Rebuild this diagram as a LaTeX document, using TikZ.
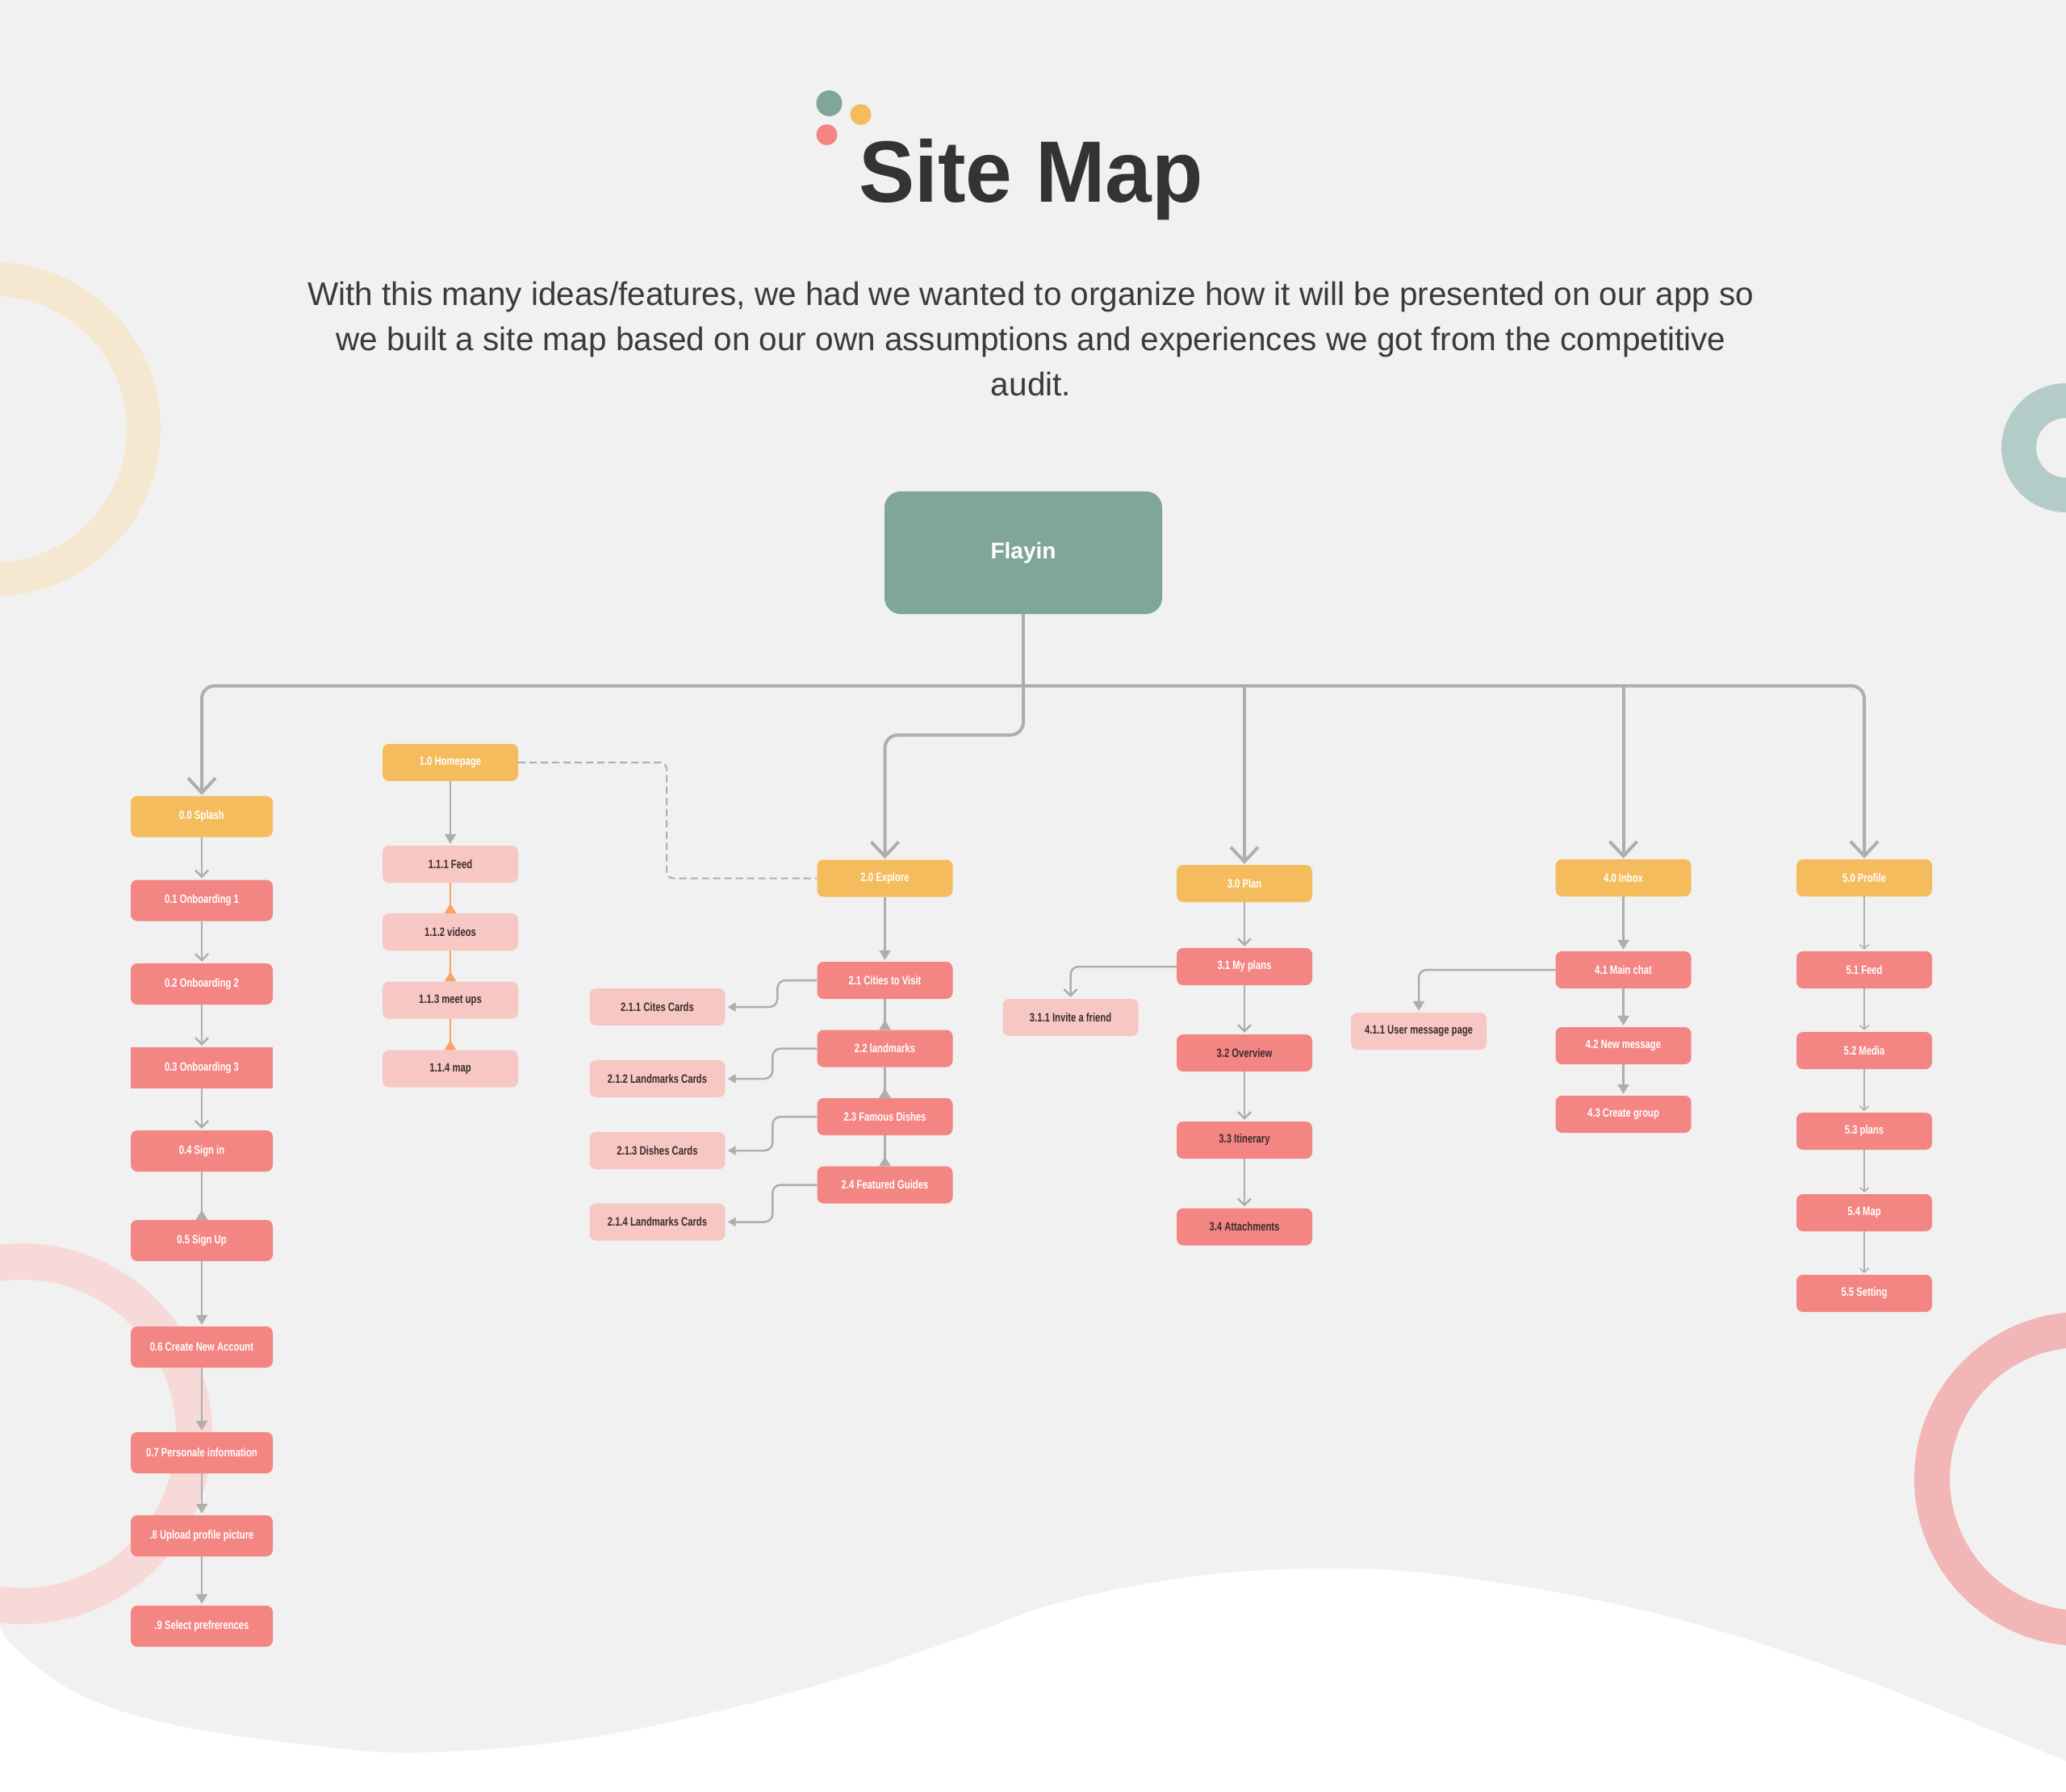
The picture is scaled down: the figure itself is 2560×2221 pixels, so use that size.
\documentclass[tikz,border=0pt]{standalone}
\usepackage{fontspec}
\setmainfont{Liberation Sans}
\newfontfamily\boxfont[FakeStretch=0.75]{Liberation Sans}
\newfontfamily\titlefont[FakeStretch=0.96]{Liberation Sans}
\usetikzlibrary{arrows.meta}

\definecolor{paper}{HTML}{F1F1F1}
\definecolor{sage}{HTML}{80A59B}
\definecolor{sun}{HTML}{F5BC5E}
\definecolor{coral}{HTML}{F38583}
\definecolor{blush}{HTML}{F6C7C3}
\definecolor{ink}{HTML}{333333}
\definecolor{bodyink}{HTML}{3A3A3A}
\definecolor{boxink}{HTML}{3A2C2C}
\definecolor{wire}{HTML}{AEAEAE}
\definecolor{tang}{HTML}{F9A266}
\definecolor{ringsand}{HTML}{F6E7D0}
\definecolor{ringsage}{HTML}{B4CCC8}
\definecolor{ringrose}{HTML}{F7DAD8}
\definecolor{ringpink}{HTML}{F3B6B6}

\begin{document}
\begin{tikzpicture}[x=1pt,y=-1pt,
  card/.style={rounded corners=8pt, inner sep=0pt, minimum width=168pt,
    minimum height=46pt, align=center, text=white,
    font=\boxfont\bfseries\fontsize{15}{17}\selectfont},
  wide/.style={minimum width=176pt, minimum height=51pt},
  topcard/.style={card, fill=sun},
  subcard/.style={card, fill=coral},
  leafcard/.style={card, fill=blush, text=boxink},
  bus/.style={draw=wire, line width=4pt},
  wirel/.style={draw=wire, line width=2.5pt},
  hair/.style={draw=wire, line width=1.5pt},
  bigv/.style={-{Straight Barb[length=18pt,width=34pt]}, shorten >=1pt},
  smallv/.style={-{Straight Barb[length=8pt,width=16pt]}, shorten >=2pt},
  tinyv/.style={-{Straight Barb[length=5pt,width=11pt]}, shorten >=2pt},
  downtri/.style={-{Triangle[length=12pt,width=14pt]}, shorten >=2pt},
  uptri/.style={-{Triangle[reversed,length=12pt,width=14pt]}},
  lefttri/.style={-{Triangle[length=10pt,width=11pt]}, shorten >=3pt},
  para/.style={text=bodyink, anchor=base, inner sep=0pt,
    font=\fontsize{40.5}{56}\selectfont}
]
\useasboundingbox (0,0) rectangle (2560,2221);

% paper and decorative rings
\fill[paper] (0,0) rectangle (2560,2221);
\begin{scope}
  \clip (0,0) rectangle (2560,2221);
  \fill[ringsand, even odd rule] (-8,532) circle[radius=207pt] (-8,532) circle[radius=165pt];
  \fill[ringsage, even odd rule] (2560,555) circle[radius=80pt] (2560,555) circle[radius=37pt];
  \fill[ringrose, even odd rule] (27,1777) circle[radius=236pt] (27,1777) circle[radius=191pt];
  \fill[ringpink, even odd rule] (2579,1833) circle[radius=207pt] (2579,1833) circle[radius=163pt];
  % white wave along the bottom
  \fill[white] plot[smooth, tension=0.6] coordinates {(-10,1995) (16,2040) (98,2100) (212,2137)
      (376,2162) (523,2172) (735,2153) (980,2098) (1176,2035) (1306,1988) (1470,1955)
      (1633,1944) (1796,1953) (2041,1997) (2286,2073) (2570,2187)}
    -- (2570,2230) -- (-10,2230) -- cycle;
\end{scope}

% heading
\fill[sage] (1027.5,128) circle[radius=16pt];
\fill[sun] (1066.5,142) circle[radius=13pt];
\fill[coral] (1024.5,167) circle[radius=13pt];
\node[anchor=base, inner sep=0pt, text=ink,
  font=\titlefont\bfseries\fontsize{108}{120}\selectfont] (title) at (1277.5,250) {Site Map};
\node[para] (line1) at (1277.5,378) {With this many ideas/features, we had we wanted to organize how it will be presented on our app so};
\node[para] (line2) at (1277.5,434) {we built a site map based on our own assumptions and experiences we got from the competitive};
\node[para] (line3) at (1277.5,490) {audit.};

% root
\node[rounded corners=20pt, fill=sage, minimum width=344pt, minimum height=152pt,
  text=white, font=\bfseries\fontsize{28}{32}\selectfont] (root) at (1268,685) {Flayin};

% column 0
\node[topcard,wide] (n00) at (250,1012) {0.0 Splash};
\node[subcard,wide] (n01) at (250,1116) {0.1 Onboarding 1};
\node[subcard,wide] (n02) at (250,1219.5) {0.2 Onboarding 2};
\node[subcard,wide,sharp corners] (n03) at (250,1323.5) {0.3 Onboarding 3};
\node[subcard,wide] (n04) at (250,1426.5) {0.4 Sign in};
\node[subcard,wide] (n05) at (250,1537.5) {0.5 Sign Up};
\node[subcard,wide] (n06) at (250,1669.5) {0.6 Create New Account};
\node[subcard,wide] (n07) at (250,1800.5) {0.7 Personale information};
\node[subcard,wide] (n08) at (250,1903.5) {.8 Upload profile picture};
\node[subcard,wide] (n09) at (250,2015.5) {.9 Select prefrerences};

% column 1
\node[topcard] (n10) at (558,945) {1.0 Homepage};
\node[leafcard] (n111) at (558,1071) {1.1.1 Feed};
\node[leafcard] (n112) at (558,1155) {1.1.2 videos};
\node[leafcard] (n113) at (558,1239.5) {1.1.3 meet ups};
\node[leafcard] (n114) at (558,1324.5) {1.1.4 map};

% column 2
\node[topcard] (n20) at (1096.5,1088.5) {2.0 Explore};
\node[subcard] (n21) at (1096.5,1215) {2.1 Cities to Visit};
\node[subcard] (n22) at (1096.5,1299.5) {2.2 landmarks};
\node[subcard] (n23) at (1096.5,1384) {2.3 Famous Dishes};
\node[subcard] (n24) at (1096.5,1468.5) {2.4 Featured Guides};
\node[leafcard] (n211) at (814.5,1248) {2.1.1 Cites Cards};
\node[leafcard] (n212) at (814.5,1337) {2.1.2 Landmarks Cards};
\node[leafcard] (n213) at (814.5,1426) {2.1.3 Dishes Cards};
\node[leafcard] (n214) at (814.5,1514.5) {2.1.4 Landmarks Cards};

% column 3
\node[topcard] (n30) at (1542,1095) {3.0 Plan};
\node[subcard] (n31) at (1542,1198) {3.1 My plans};
\node[subcard,text=boxink] (n32) at (1542,1305) {3.2 Overview};
\node[subcard,text=boxink] (n33) at (1542,1413) {3.3 Itinerary};
\node[subcard,text=boxink] (n34) at (1542,1520.5) {3.4 Attachments};
\node[leafcard] (n311) at (1326.5,1261) {3.1.1 Invite a friend};

% column 4
\node[topcard] (n40) at (2011.5,1088) {4.0 Inbox};
\node[subcard] (n41) at (2011.5,1202) {4.1 Main chat};
\node[subcard] (n42) at (2011.5,1296) {4.2 New message};
\node[subcard] (n43) at (2011.5,1381) {4.3 Create group};
\node[leafcard] (n411) at (1758,1278) {4.1.1 User message page};

% column 5
\node[topcard] (n50) at (2310,1088) {5.0 Profile};
\node[subcard] (n51) at (2310,1202) {5.1 Feed};
\node[subcard] (n52) at (2310,1302) {5.2 Media};
\node[subcard] (n53) at (2310,1402) {5.3 plans};
\node[subcard] (n54) at (2310,1503) {5.4 Map};
\node[subcard] (n55) at (2310,1603) {5.5 Setting};

% main bus from the root
\coordinate (hub) at (1268,850);
\coordinate (bend) at (1268,911);
\draw[bus] (root.south) -- (hub);
\draw[bus, rounded corners=16pt, bigv] (hub) -| (n00.north);
\draw[bus, rounded corners=16pt, bigv] (hub) -- (bend) -| (n20.north);
\draw[bus, bigv] (hub) -| (n30.north);
\draw[bus, bigv] (hub) -| (n40.north);
\draw[bus, rounded corners=16pt, bigv] (hub) -| (n50.north);

% column 0 links
\draw[wirel, smallv] (n00.south) -- (n01.north);
\draw[wirel, smallv] (n01.south) -- (n02.north);
\draw[wirel, smallv] (n02.south) -- (n03.north);
\draw[wirel, smallv] (n03.south) -- (n04.north);
\draw[wirel, uptri] (n04.south) -- (n05.north);
\draw[wirel, downtri] (n05.south) -- (n06.north);
\draw[wirel, downtri] (n06.south) -- (n07.north);
\draw[wirel, downtri] (n07.south) -- (n08.north);
\draw[wirel, downtri] (n08.south) -- (n09.north);

% column 1 links
\draw[wirel, downtri] (n10.south) -- (n111.north);
\draw[draw=tang, line width=2.5pt, uptri] (n111.south) -- (n112.north);
\draw[draw=tang, line width=2.5pt, uptri] (n112.south) -- (n113.north);
\draw[draw=tang, line width=2.5pt, uptri] (n113.south) -- (n114.north);
\coordinate (dz) at (826,1088.5);
\draw[draw=wire, line width=2pt, dash pattern=on 9pt off 5pt, rounded corners=8pt]
  (n10.east) -| (dz) -- (n20.west);

% column 2 links
\draw[wirel, downtri] (n20.south) -- (n21.north);
\draw[wirel, uptri] (n21.south) -- (n22.north);
\draw[wirel, uptri] (n22.south) -- (n23.north);
\draw[wirel, uptri] (n23.south) -- (n24.north);
\draw[wirel, lefttri, rounded corners=10pt] (n21.west) -- ++(-49,0) |- (n211.east);
\draw[wirel, lefttri, rounded corners=10pt] (n22.west) -- ++(-55,0) |- (n212.east);
\draw[wirel, lefttri, rounded corners=10pt] (n23.west) -- ++(-55,0) |- (n213.east);
\draw[wirel, lefttri, rounded corners=10pt] (n24.west) -- ++(-55,0) |- (n214.east);

% column 3 links
\draw[wirel, smallv] (n30.south) -- (n31.north);
\draw[wirel, smallv] (n31.south) -- (n32.north);
\draw[wirel, smallv] (n32.south) -- (n33.north);
\draw[wirel, smallv] (n33.south) -- (n34.north);
\draw[wirel, smallv, rounded corners=10pt] (n31.west) -| (n311.north);

% column 4 links
\draw[wirel, downtri] (n40.south) -- (n41.north);
\draw[wirel, downtri] (n41.south) -- (n42.north);
\draw[wirel, downtri] (n42.south) -- (n43.north);
\draw[wirel, downtri, rounded corners=10pt] (n41.west) -| (n411.north);

% column 5 links
\draw[hair, tinyv] (n50.south) -- (n51.north);
\draw[hair, tinyv] (n51.south) -- (n52.north);
\draw[hair, tinyv] (n52.south) -- (n53.north);
\draw[hair, tinyv] (n53.south) -- (n54.north);
\draw[hair, tinyv] (n54.south) -- (n55.north);
\end{tikzpicture}
\end{document}
